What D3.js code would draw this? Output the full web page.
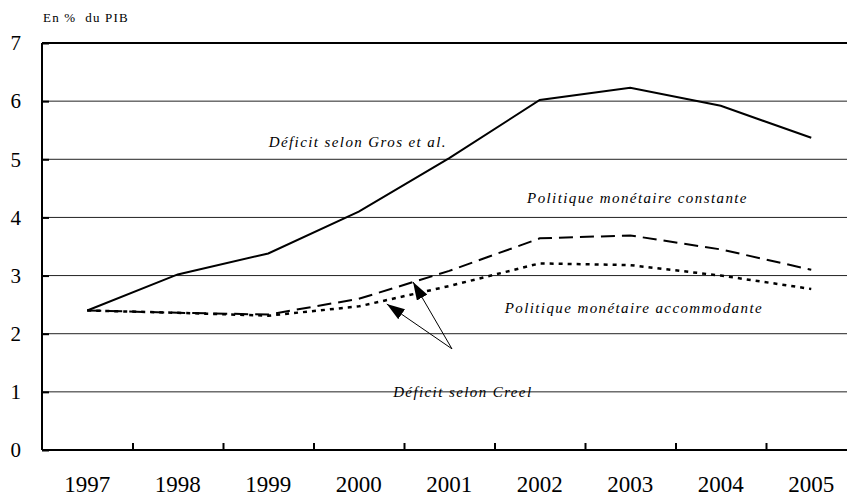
<!DOCTYPE html>
<html>
<head>
<meta charset="utf-8">
<script src="https://cdn.jsdelivr.net/npm/d3@7"></script>
<style>
  body { margin: 0; background: #fff; }
  svg { display: block; }
  svg text { font-family: "Liberation Serif", "Times New Roman", Times, serif; }
</style>
</head>
<body>
<svg width="847" height="496"></svg>
<script>
// The svg
const svg = d3.select("svg"),
    width = +svg.attr("width"),
    height = +svg.attr("height");

// Data
const years = [1997, 1998, 1999, 2000, 2001, 2002, 2003, 2004, 2005];
const grosDeficit = [2.40, 3.02, 3.38, 4.10, 5.02, 6.02, 6.23, 5.92, 5.37];
const constantPolicy = [2.40, 2.36, 2.33, 2.60, 3.08, 3.64, 3.69, 3.45, 3.10];
const accommodatingPolicy = [2.40, 2.36, 2.31, 2.47, 2.82, 3.21, 3.18, 3.00, 2.77];
const yTicks = [0, 1, 2, 3, 4, 5, 6, 7];

// Annotations, in data units (fractional year, value)
const labels = [
    {text: "Déficit selon Gros et al.", x: 1999.99, y: 5.21},
    {text: "Politique monétaire constante", x: 2003.08, y: 4.25},
    {text: "Politique monétaire accommodante", x: 2003.04, y: 2.36},
    {text: "Déficit selon Creel", x: 2001.15, y: 0.91}
];
const arrowFrom = {x: 2001.03, y: 1.74};
const arrowTips = [{x: 2000.31, y: 2.51}, {x: 2000.60, y: 2.89}];

// Layout
const margin = {top: 43, left: 42, bottom: 46};
const plotRight = 856.5;

const x = d3.scaleLinear()
    .domain([1996.5, 2005.5])
    .range([margin.left, plotRight]);

const y = d3.scaleLinear()
    .domain([0, 7])
    .range([height - margin.bottom, margin.top]);

// Gridlines
svg.append("g")
    .selectAll("line")
    .data(yTicks.filter(d => d > 0 && d < 7))
    .join("line")
        .attr("x1", x.range()[0])
        .attr("x2", x.range()[1])
        .attr("y1", d => y(d))
        .attr("y2", d => y(d))
        .attr("stroke", "#222")
        .attr("stroke-width", 1);

// Top border
svg.append("line")
    .attr("x1", x.range()[0])
    .attr("x2", x.range()[1])
    .attr("y1", y(7))
    .attr("y2", y(7))
    .attr("stroke", "#000")
    .attr("stroke-width", 2);

// Y axis
const yAxis = svg.append("g")
    .attr("transform", `translate(${margin.left},0)`)
    .call(d3.axisLeft(y).tickValues(yTicks).tickSize(-7).tickPadding(21).tickFormat(d3.format("d")));
yAxis.attr("font-family", null);
yAxis.select(".domain").attr("stroke-width", 2).attr("d", `M0,${y(7)}V${y(0)}`);
yAxis.selectAll(".tick line").attr("stroke-width", 2);
yAxis.selectAll("text")
    .style("font-size", "21px")
    .attr("fill", "#000");

// X axis: boundary ticks
const xAxis = svg.append("g")
    .attr("transform", `translate(0,${y(0)})`)
    .call(d3.axisBottom(x).tickValues(years.slice(0, -1).map(d => d + 0.5)).tickSize(-7).tickFormat(""));
xAxis.select(".domain").attr("stroke-width", 2).attr("d", `M${x.range()[0]},0H${x.range()[1]}`);
xAxis.selectAll(".tick line").attr("stroke-width", 2);

// X axis: year labels
svg.append("g")
    .selectAll("text")
    .data(years)
    .join("text")
        .attr("x", d => x(d))
        .attr("y", height - 4)
        .attr("text-anchor", "middle")
        .style("font-size", "23px")
        .text(d => d);

// Unit label
svg.append("text")
    .attr("x", 43)
    .attr("y", 22)
    .style("font-size", "13px")
    .style("letter-spacing", "1.2px")
    .style("white-space", "pre")
    .text("En %  du PIB");

// Lines
const line = d3.line()
    .x((d, i) => x(years[i]))
    .y(d => y(d));

const series = [
    {values: grosDeficit, dash: null, width: 2},
    {values: constantPolicy, dash: "14,7", width: 2},
    {values: accommodatingPolicy, dash: "4,5", width: 2.5}
];

svg.append("g")
    .selectAll("path")
    .data(series)
    .join("path")
        .attr("d", d => line(d.values))
        .attr("fill", "none")
        .attr("stroke", "#000")
        .attr("stroke-width", d => d.width)
        .attr("stroke-dasharray", d => d.dash);

// Arrow marker
svg.append("defs").append("marker")
    .attr("id", "arrow")
    .attr("viewBox", "0 0 18 12")
    .attr("refX", 18)
    .attr("refY", 6)
    .attr("markerWidth", 18)
    .attr("markerHeight", 12)
    .attr("markerUnits", "userSpaceOnUse")
    .attr("orient", "auto")
  .append("path")
    .attr("d", "M0,0L18,6L0,12Z")
    .attr("fill", "#000");

svg.append("g")
    .selectAll("line")
    .data(arrowTips)
    .join("line")
        .attr("x1", x(arrowFrom.x))
        .attr("y1", y(arrowFrom.y))
        .attr("x2", d => x(d.x))
        .attr("y2", d => y(d.y))
        .attr("stroke", "#000")
        .attr("stroke-width", 1)
        .attr("marker-end", "url(#arrow)");

// Series labels
svg.append("g")
    .selectAll("text")
    .data(labels)
    .join("text")
        .attr("x", d => x(d.x))
        .attr("y", d => y(d.y))
        .attr("text-anchor", "middle")
        .style("font-style", "italic")
        .style("font-size", "15px")
        .style("letter-spacing", "1.4px")
        .text(d => d.text);
</script>
</body>
</html>
